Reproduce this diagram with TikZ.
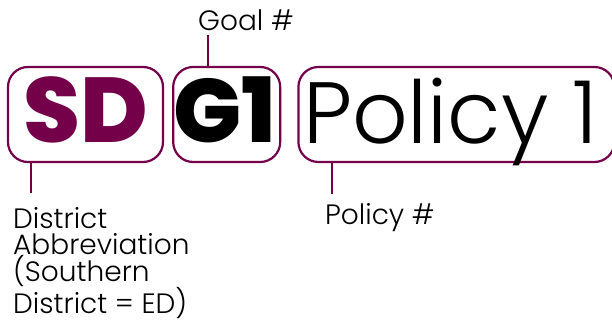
\documentclass[tikz,border=0pt]{standalone}
\usepackage{fontspec}
\setmainfont{Poppins}
\newfontfamily\lightfont{Poppins Light}
\newfontfamily\heavyfont{Poppins ExtraBold}
\usepackage{xcolor}
\usepackage{tikz}
\usetikzlibrary{positioning}
\definecolor{plum}{HTML}{74004A}
\tikzstyle{tagbox} = [rectangle, rounded corners=20pt, draw=plum, line width=2.2pt, minimum height=95pt, inner sep=0pt, text depth=2pt, text centered]
\tikzstyle{tick} = [draw=plum, line width=2pt]
\tikzstyle{caption} = [inner sep=0pt, font=\lightfont\fontsize{28}{26}\selectfont, align=left]

\begin{document}
\begin{tikzpicture}[x=1pt, y=-1pt, node distance=8pt]
            \useasboundingbox (0,0) rectangle (612,328);
            % the three parts of the code
            \node[tagbox, minimum width=155pt, text height=58pt, text=plum, font=\heavyfont\fontsize{92}{92}\selectfont] (abbr) at (85.5,114.5) {SD};
            \node[tagbox, minimum width=107pt, text height=58pt, font=\heavyfont\fontsize{90}{90}\selectfont, right=of abbr] (goal) {G1\hspace*{4pt}};
            \node[tagbox, minimum width=316pt, text height=60pt, font=\lightfont\fontsize{87}{87}\selectfont, right=16pt of goal] (policy) {Policy 1\hspace*{12pt}};

            % labels
            \node[caption, anchor=base west] (goallabel) at (198,31) {Goal \#};
            \node[caption, anchor=north west] (abbrlabel) at (13,207) {District\\Abbreviation\\(Southern\\District = ED)};
            \node[caption, anchor=base west] (policylabel) at (325,225) {Policy \#};

            % leader lines
            \coordinate (goaltip) at (208,35);
            \coordinate (abbrtip) at (31,193);
            \coordinate (policytip) at (332,194);
            \draw[tick] (goaltip) -- (goaltip |- goal.north);
            \draw[tick] (abbrtip) -- (abbrtip |- abbr.south);
            \draw[tick] (policytip) -- (policytip |- policy.south);
        \end{tikzpicture}
\end{document}
